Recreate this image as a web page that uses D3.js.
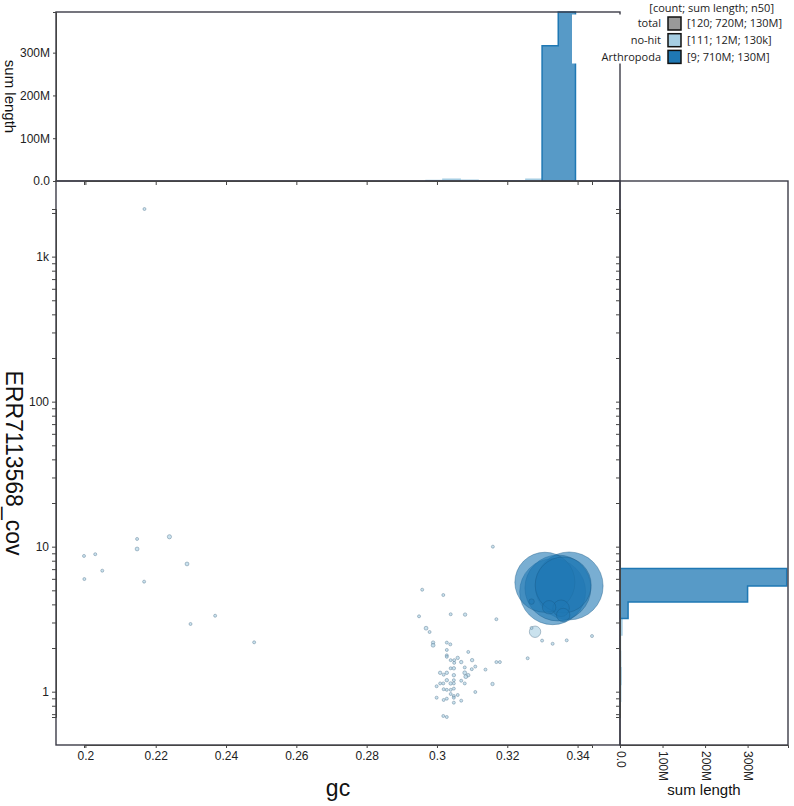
<!DOCTYPE html>
<html>
  <head>
    <meta charset="utf-8">
    <title>ERR7113568 blob plot</title>
    <script src="https://cdn.jsdelivr.net/npm/d3@7"></script>
    <style>
      body { margin: 0; background: #fff; }
      svg { display: block; font-family: "Liberation Sans", Arial, sans-serif; }
      .axis text { font-size: 12px; fill: #222; }
      .axis path, .axis line { stroke: #444; }
      .frame { fill: none; stroke: #3c3c48; stroke-width: 1.4; }
      .legend text { font-family: "Open Sans", sans-serif; font-size: 11px; fill: #222; }
      .label { fill: #111; }
    </style>
  </head>
  <body>
    <svg id="plot" width="794" height="806"></svg>

    <script>
      // scatter points: [gc, coverage, length]
      const noHitPoints = [
        [0.1996, 8.63, 150e3], [0.1997, 5.98, 150e3], [0.2028, 8.87, 150e3], [0.2048, 6.83, 300e3],
        [0.2147, 11.3, 200e3], [0.2147, 9.64, 500e3], [0.2167, 5.74, 200e3], [0.2239, 11.7, 600e3],
        [0.2289, 7.6, 500e3], [0.2299, 2.93, 200e3], [0.2369, 3.34, 200e3], [0.2480, 2.19, 150e3],
        [0.2168, 2130, 150e3],
        [0.3159, 10.0, 150e3], [0.2958, 5.05, 150e3], [0.3018, 4.64, 150e3], [0.2949, 3.31, 300e3],
        [0.3039, 3.42, 150e3], [0.3080, 3.40, 400e3], [0.3169, 3.16, 200e3], [0.2969, 2.74, 500e3],
        [0.2979, 2.58, 300e3], [0.2989, 2.18, 400e3], [0.2989, 2.09, 500e3], [0.3028, 2.18, 200e3],
        [0.3038, 2.12, 150e3], [0.3028, 1.94, 300e3], [0.3089, 1.88, 200e3], [0.3028, 1.78, 300e3],
        [0.3028, 1.74, 300e3], [0.3059, 1.71, 400e3], [0.3039, 1.65, 200e3], [0.3049, 1.65, 300e3],
        [0.3100, 1.65, 400e3], [0.3069, 1.60, 400e3], [0.3049, 1.58, 300e3], [0.3169, 1.60, 200e3],
        [0.3179, 1.60, 200e3], [0.3258, 1.70, 300e3], [0.3109, 1.49, 300e3], [0.3039, 1.45, 300e3],
        [0.3048, 1.45, 400e3], [0.3079, 1.47, 300e3], [0.3099, 1.43, 200e3], [0.3138, 1.42, 300e3],
        [0.3009, 1.35, 400e3], [0.3019, 1.31, 300e3], [0.3028, 1.35, 400e3], [0.3048, 1.30, 400e3],
        [0.3079, 1.35, 500e3], [0.3089, 1.30, 400e3], [0.3082, 1.27, 500e3], [0.3028, 1.20, 400e3],
        [0.3048, 1.20, 300e3], [0.3069, 1.19, 200e3], [0.3009, 1.14, 200e3], [0.3018, 1.14, 200e3],
        [0.3039, 1.14, 400e3], [0.3048, 1.14, 300e3], [0.3079, 1.14, 200e3], [0.3158, 1.13, 400e3],
        [0.2999, 1.09, 200e3], [0.3019, 1.04, 200e3], [0.3028, 1.03, 300e3], [0.3039, 1.03, 300e3],
        [0.3048, 1.05, 300e3], [0.3109, 0.995, 200e3], [0.3039, 0.964, 300e3], [0.3048, 0.934, 200e3],
        [0.3059, 0.949, 300e3], [0.2999, 0.909, 200e3], [0.3019, 0.877, 300e3], [0.3028, 0.895, 200e3],
        [0.3048, 0.909, 200e3], [0.3069, 0.867, 200e3], [0.3048, 0.840, 300e3], [0.3018, 0.680, 150e3],
        [0.3028, 0.669, 150e3],
        [0.3299, 2.25, 200e3], [0.3329, 2.14, 200e3], [0.3369, 2.26, 150e3], [0.3441, 2.42, 150e3],
        [0.3279, 2.59, 4.4e6], [0.3269, 2.75, 200e3]
      ];
      const arthropodaPoints = [
        [0.3307, 5.68, 122e6], [0.3376, 5.36, 156e6], [0.3329, 4.89, 147e6], [0.3359, 5.44, 106e6],
        [0.3344, 5.19, 147e6], [0.3319, 3.82, 6.1e6], [0.3353, 3.76, 9.3e6], [0.3359, 3.38, 6.1e6],
        [0.3269, 4.18, 1e6]
      ];

      // histograms: bin edges and summed length per bin
      const gcEdgesNoHit = [0.2969, 0.3017, 0.3066, 0.3117, 0.3165, 0.3209, 0.3253, 0.3299];
      const gcSumsNoHit = [1.2e6, 4e6, 1.5e6, 0.5e6, 0.3e6, 0.3e6, 4e6];
      const gcEdgesArthropoda = [0.3299, 0.3345, 0.3394];
      const gcSumsArthropoda = [316e6, 395e6];
      const covEdgesNoHit = [4.15, 3.20, 2.46, 1.89, 1.46, 1.12, 0.86, 0.66];
      const covSumsNoHit = [0.4e6, 4.5e6, 1e6, 1.5e6, 2.5e6, 1.5e6, 0.4e6];
      const covEdgesArthropoda = [7.07, 5.36, 4.15, 3.20];
      const covSumsArthropoda = [392e6, 300e6, 19e6];

      // legend
      const legendNames = ["total", "no-hit", "Arthropoda"];
      const legendStats = ["[120; 720M; 130M]", "[111; 12M; 130k]", "[9; 710M; 130M]"];
      const legendColours = ["#999999", "#a6cee3", "#1f78b4"];

      // layout
      const plotLeft = 56, plotRight = 620, plotTop = 181, plotBottom = 745, pad = 28;
      const histTop = 12, histRight = 788;

      const svg = d3.select("#plot");
      const allPoints = noHitPoints.concat(arthropodaPoints);

      const x = d3.scaleLinear()
        .domain(d3.extent(allPoints, d => d[0]))
        .range([plotLeft + pad, plotRight - pad]);
      const y = d3.scaleLog()
        .domain(d3.extent(allPoints, d => d[1]))
        .range([plotBottom - pad, plotTop + pad]);
      const histMax = d3.max(gcSumsArthropoda.concat(covSumsArthropoda));
      const histY = d3.scaleLinear().domain([0, histMax]).range([plotTop, histTop]);
      const histX = d3.scaleLinear().domain([0, histMax]).range([plotRight, histRight]);
      const radius = d3.scaleSqrt().domain([0, 130e6]).range([0, 31]);

      function topStep(edges, sums) {
        const pts = [[edges[0], 0]];
        sums.forEach((s, i) => pts.push([edges[i], s]));
        pts.push([edges[edges.length - 1], 0]);
        return d3.line().x(d => x(d[0])).y(d => histY(d[1])).curve(d3.curveStepAfter)(pts);
      }
      function rightStep(edges, sums) {
        const pts = [[0, edges[0]]];
        sums.forEach((s, i) => pts.push([s, edges[i]]));
        pts.push([0, edges[edges.length - 1]]);
        return d3.line().x(d => histX(d[0])).y(d => y(d[1])).curve(d3.curveStepBefore)(pts);
      }

      // histograms
      const hists = [
        [topStep(gcEdgesNoHit, gcSumsNoHit), legendColours[1]],
        [rightStep(covEdgesNoHit, covSumsNoHit), legendColours[1]],
        [topStep(gcEdgesArthropoda, gcSumsArthropoda), legendColours[2]],
        [rightStep(covEdgesArthropoda, covSumsArthropoda), legendColours[2]]
      ];
      svg.append("g").selectAll("path")
        .data(hists)
        .enter().append("path")
          .attr("d", d => d[0])
          .attr("fill", d => d[1])
          .attr("fill-opacity", 0.75)
          .attr("stroke", d => d[1])
          .attr("stroke-width", 1.5);

      // scatter
      const dots = svg.append("g");
      dots.selectAll(".nohit")
        .data(noHitPoints)
        .enter().append("circle")
          .attr("cx", d => x(d[0]))
          .attr("cy", d => y(d[1]))
          .attr("r", d => Math.max(1.5, radius(d[2])))
          .attr("fill", legendColours[1])
          .attr("fill-opacity", 0.6)
          .attr("stroke", "#5f7f95")
          .attr("stroke-opacity", 0.6)
          .attr("stroke-width", 0.8);
      dots.selectAll(".arth")
        .data(arthropodaPoints.slice().sort((a, b) => b[2] - a[2]))
        .enter().append("circle")
          .attr("cx", d => x(d[0]))
          .attr("cy", d => y(d[1]))
          .attr("r", d => Math.max(1.5, radius(d[2])))
          .attr("fill", legendColours[2])
          .attr("fill-opacity", 0.6)
          .attr("stroke", "#1a5a88")
          .attr("stroke-opacity", 0.5)
          .attr("stroke-width", 0.8);

      // frames
      svg.append("rect").attr("class", "frame")
        .attr("x", plotLeft).attr("y", plotTop)
        .attr("width", plotRight - plotLeft).attr("height", plotBottom - plotTop);
      svg.append("rect").attr("class", "frame")
        .attr("x", plotLeft).attr("y", histTop)
        .attr("width", plotRight - plotLeft).attr("height", plotTop - histTop);
      svg.append("rect").attr("class", "frame")
        .attr("x", plotRight).attr("y", plotTop)
        .attr("width", histRight - plotRight).attr("height", plotBottom - plotTop);

      // axes
      svg.append("g").attr("class", "axis")
        .attr("transform", `translate(0,${plotBottom})`)
        .call(d3.axisBottom(x).tickSize(3).tickFormat(d3.format("~g")));
      svg.append("g").attr("class", "axis")
        .attr("transform", `translate(${plotLeft},0)`)
        .call(d3.axisLeft(y).tickSize(4)
          .tickFormat(d => Number.isInteger(Math.log10(d)) ? d3.format("~s")(d) : ""));
      svg.append("g").attr("class", "axis")
        .attr("transform", `translate(0,${plotTop})`)
        .call(d3.axisBottom(x).tickSize(4).tickFormat(""));
      svg.append("g").attr("class", "axis")
        .attr("transform", `translate(${plotRight},0)`)
        .call(d3.axisLeft(y).tickSize(4).tickFormat(""));
      svg.append("g").attr("class", "axis")
        .attr("transform", `translate(${plotLeft},0)`)
        .call(d3.axisLeft(histY).ticks(4).tickSize(3).tickFormat(d3.format(".2s")));
      svg.append("g").attr("class", "axis")
        .attr("transform", `translate(0,${plotBottom})`)
        .call(d3.axisBottom(histX).ticks(4).tickSize(3).tickFormat(d3.format(".2s")))
        .selectAll("text")
          .attr("y", 0)
          .attr("x", 6)
          .attr("dy", "0.32em")
          .attr("transform", "rotate(90)")
          .style("text-anchor", "start");

      // axis titles
      svg.append("text").attr("class", "label")
        .attr("x", (plotLeft + plotRight) / 2).attr("y", 796)
        .attr("text-anchor", "middle").style("font-size", "23px")
        .text("gc");
      svg.append("text").attr("class", "label")
        .attr("transform", `translate(6,${(plotTop + plotBottom) / 2}) rotate(90)`)
        .attr("text-anchor", "middle").style("font-size", "23px")
        .text("ERR7113568_cov");
      svg.append("text").attr("class", "label")
        .attr("transform", `translate(5,${(histTop + plotTop) / 2}) rotate(90)`)
        .attr("text-anchor", "middle").style("font-size", "15px")
        .text("sum length");
      svg.append("text").attr("class", "label")
        .attr("x", (plotRight + histRight) / 2).attr("y", 795)
        .attr("text-anchor", "middle").style("font-size", "15px")
        .text("sum length");

      // legend
      const legend = svg.append("g").attr("class", "legend");
      legend.append("rect")
        .attr("x", 572).attr("y", 14.5).attr("width", 222).attr("height", 49)
        .attr("fill", "#fff");
      legend.append("text")
        .attr("x", 774).attr("y", 12)
        .attr("text-anchor", "end")
        .text("[count; sum length; n50]");
      const rows = legend.selectAll(".row")
        .data(legendNames)
        .enter().append("g")
          .attr("transform", (d, i) => `translate(0,${23.5 + i * 16.7})`);
      rows.append("text")
        .attr("x", 661).attr("dy", "0.35em")
        .attr("text-anchor", "end")
        .text(d => d);
      rows.append("rect")
        .attr("x", 668).attr("y", -6.5).attr("width", 13).attr("height", 13)
        .attr("fill", (d, i) => legendColours[i])
        .attr("stroke", "#111").attr("stroke-width", 1.5);
      rows.append("text")
        .attr("x", 687).attr("dy", "0.35em")
        .text((d, i) => legendStats[i]);
    </script>
  </body>
</html>
